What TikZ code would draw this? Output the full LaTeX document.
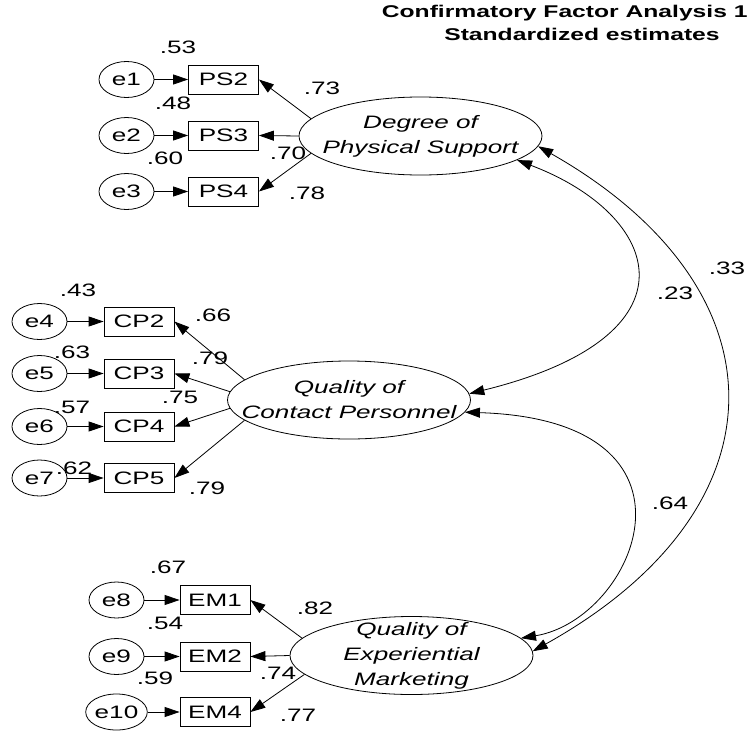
\documentclass[tikz,border=0pt]{standalone}
\usepackage{fontspec}
\setmainfont[FakeStretch=1.45]{Liberation Sans}
\usepackage{tikz}
\usetikzlibrary{arrows.meta,shapes.geometric}

\begin{document}
\begin{tikzpicture}[x=1pt,y=-1pt,line width=0.8pt,
  font=\fontsize{18}{20}\selectfont,
  err/.style={draw,ellipse,minimum width=55pt,minimum height=36pt,inner sep=0pt},
  ind/.style={draw,minimum width=70pt,minimum height=29pt,inner sep=0pt},
  fac/.style={draw,ellipse,minimum width=243pt,minimum height=78pt},
  factxt/.style={align=center,inner sep=0pt,font=\fontsize{18}{25}\selectfont\itshape},
  est/.style={inner sep=0pt},
  load/.style={-{Triangle[length=15pt,width=10pt]}},
  corr/.style={{Triangle[length=15pt,width=10pt]}-{Triangle[length=15pt,width=10pt]}},
  ttl/.style={inner sep=0pt,font=\fontsize{17}{20}\selectfont\bfseries}]
  \useasboundingbox (0,0) rectangle (752,731);

  % title
  \node[ttl,anchor=base east] (ttl1) at (748,17) {Confirmatory Factor Analysis 1};
  \node[ttl,anchor=base] (ttl2) at (582,40) {Standardized estimates};

  % latent factors
  \node[fac] (dps) at (420.5,136) {};
  \node[factxt] (dpstxt) at (dps.center) {Degree of\\Physical Support};
  \node[fac] (qcp) at (349,400) {};
  \node[factxt] (qcptxt) at (qcp.center) {Quality of\\Contact Personnel};
  \node[fac] (qem) at (411.5,655.5) {};
  \node[factxt] (qemtxt) at (qem.center) {Quality of\\Experiential\\Marketing};

  % indicators and errors
  \node[ind] (ps2) at (223.5,79.5) {PS2};
  \node[ind] (ps3) at (223.5,135.5) {PS3};
  \node[ind] (ps4) at (223.5,191.5) {PS4};
  \node[err] (e1) at (126.5,79.5) {e1};
  \node[err] (e2) at (126.5,135.5) {e2};
  \node[err] (e3) at (126.5,191.5) {e3};

  \node[ind] (cp2) at (139,321.5) {CP2};
  \node[ind] (cp3) at (139,373.5) {CP3};
  \node[ind] (cp4) at (139,426.5) {CP4};
  \node[ind] (cp5) at (139,478) {CP5};
  \node[err] (e4) at (39.5,321.5) {e4};
  \node[err] (e5) at (39.5,373.5) {e5};
  \node[err] (e6) at (39.5,426.5) {e6};
  \node[err] (e7) at (39.5,478) {e7};

  \node[ind] (em1) at (215,600) {EM1};
  \node[ind] (em2) at (215,656.5) {EM2};
  \node[ind] (em4) at (215,712) {EM4};
  \node[err] (e8) at (116.5,600) {e8};
  \node[err] (e9) at (116.5,656.5) {e9};
  \node[err] (e10) at (116.5,712) {e10};

  % error paths
  \draw[load] (e1) -- (ps2);
  \draw[load] (e2) -- (ps3);
  \draw[load] (e3) -- (ps4);
  \draw[load] (e4) -- (cp2);
  \draw[load] (e5) -- (cp3);
  \draw[load] (e6) -- (cp4);
  \draw[load] (e7) -- (cp5);
  \draw[load] (e8) -- (em1);
  \draw[load] (e9) -- (em2);
  \draw[load] (e10) -- (em4);

  % loadings
  \draw[load] (dps.171) -- (ps2.east);
  \draw[load] (dps.180) -- (ps3.east);
  \draw[load] (dps.189) -- (ps4.east);
  \draw[load] (qcp.169) -- (cp2.east);
  \draw[load] (qcp.176) -- (cp3.east);
  \draw[load] (qcp.184) -- (cp4.east);
  \draw[load] (qcp.191) -- (cp5.east);
  \draw[load] (qem.171) -- (em1.east);
  \draw[load] (qem.180) -- (em2.east);
  \draw[load] (qem.190) -- (em4.east);

  % correlations
  \draw[corr] (dps.-14) .. controls +(145,55) and +(235,-58) .. (qcp.3);
  \draw[corr] (dps.-5) .. controls +(250,142) and +(257,-143) .. (qem.2);
  \draw[corr] (qcp.-6) .. controls +(255,8) and +(115,-19) .. (qem.9);

  % estimates
  \node[est] (r1) at (178,47) {.53};
  \node[est] (r2) at (173,103) {.48};
  \node[est] (r3) at (165,158) {.60};
  \node[est] (l1) at (322,88) {.73};
  \node[est] (l2) at (288,153) {.70};
  \node[est] (l3) at (307,193) {.78};
  \node[est] (r4) at (78,290) {.43};
  \node[est] (r5) at (72,352) {.63};
  \node[est] (r6) at (72,407) {.57};
  \node[est] (r7) at (74,468) {.62};
  \node[est] (l4) at (213,315) {.66};
  \node[est] (l5) at (210,358) {.79};
  \node[est] (l6) at (180,397) {.75};
  \node[est] (l7) at (207,488) {.79};
  \node[est] (r8) at (168,567) {.67};
  \node[est] (r9) at (165,623) {.54};
  \node[est] (r10) at (155,678) {.59};
  \node[est] (l8) at (315,608) {.82};
  \node[est] (l9) at (278,673) {.74};
  \node[est] (l10) at (298,715) {.77};
  \node[est] (c1) at (675,293) {.23};
  \node[est] (c2) at (727,268) {.33};
  \node[est] (c3) at (670,503) {.64};
\end{tikzpicture}
\end{document}
